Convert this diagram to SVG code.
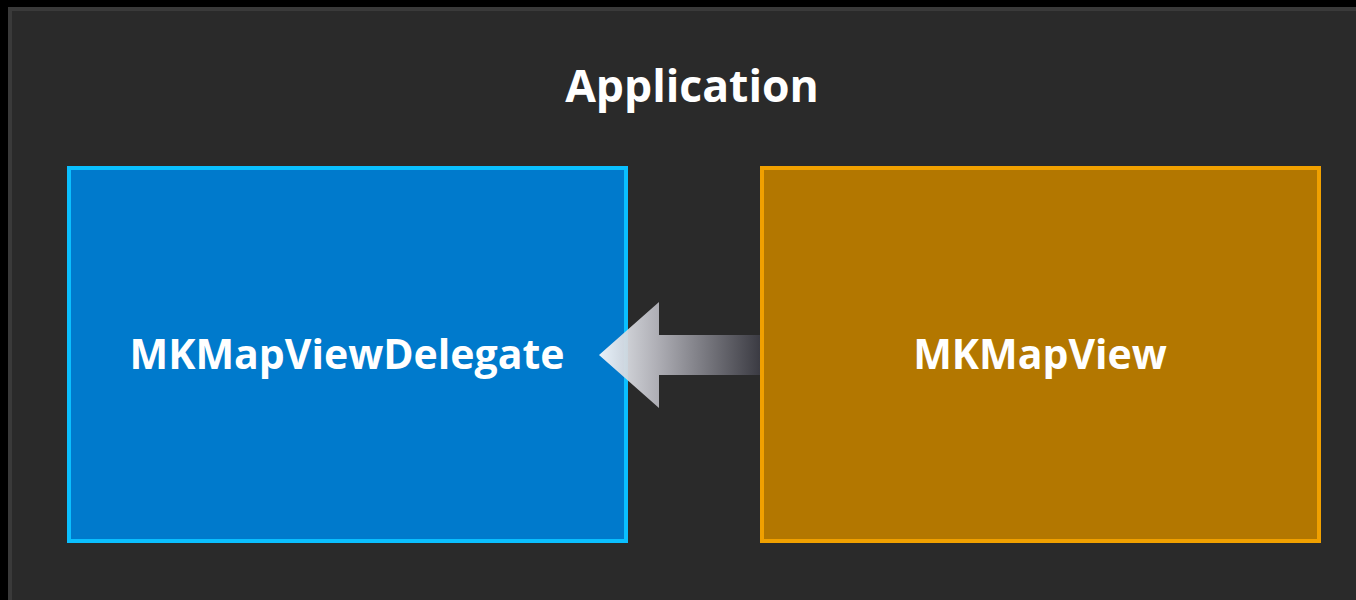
<svg xmlns="http://www.w3.org/2000/svg" width="1356" height="600" viewBox="0 0 1356 600">
<defs>
<linearGradient id="ag" x1="599" y1="0" x2="760" y2="0" gradientUnits="userSpaceOnUse">
<stop offset="0" stop-color="#f4f8fc"/>
<stop offset="0.35" stop-color="#b8b8bf"/>
<stop offset="1" stop-color="#3c3c44"/>
</linearGradient>
<style>
.t{font-family:"Open Sans","Noto Sans","Liberation Sans",sans-serif;font-weight:bold;fill:#ffffff;text-anchor:middle}
</style>
</defs>
<rect x="0" y="0" width="1356" height="600" fill="#000000"/>
<rect x="10" y="9" width="1350" height="600" fill="#2a2a2a" stroke="#3a3a3a" stroke-width="4"/>
<text class="t" x="692" y="102" font-size="44.5">Application</text>
<g id="delegate">
<rect x="69" y="168" width="557" height="373" fill="#007acc" stroke="#0abfff" stroke-width="4"/>
<text class="t" x="347" y="369" font-size="41">MKMapViewDelegate</text>
</g>
<g id="connectors">
<polygon points="599,355 659,302 659,335 762,335 762,375 659,375 659,408" fill="url(#ag)" fill-opacity="0.95"/>
</g>
<g id="mapview">
<rect x="762" y="168" width="557" height="373" fill="#b37700" stroke="#f0a000" stroke-width="4"/>
<text class="t" x="1040" y="369" font-size="41">MKMapView</text>
</g>
</svg>
